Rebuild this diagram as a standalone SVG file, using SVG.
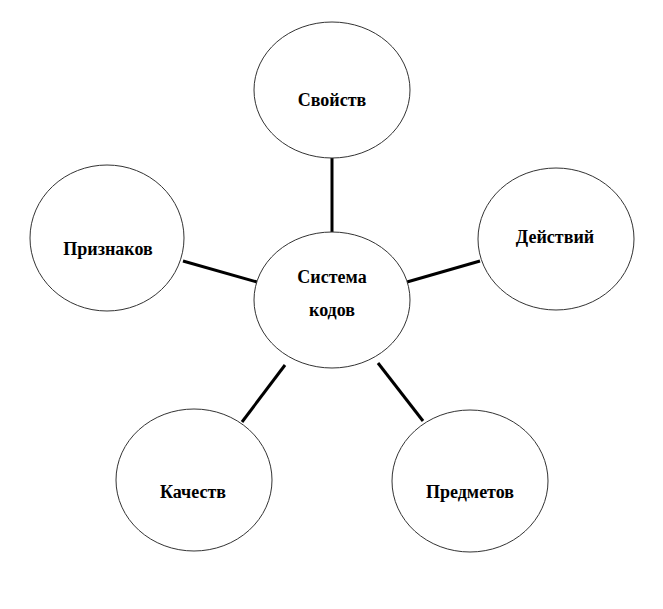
<svg xmlns="http://www.w3.org/2000/svg" width="663" height="609" viewBox="0 0 663 609">
<style>
.n ellipse{fill:#fff;stroke:#333;stroke-width:1}
.n text{font-family:"Liberation Serif","Times New Roman",serif;font-weight:bold;font-size:18px;fill:#000;text-anchor:middle}
.c line{stroke:#000;stroke-width:3}
</style>
<rect width="663" height="609" fill="#fff"/>
<g class="c" id="connectors">
<line x1="332" y1="158" x2="332" y2="232"/>
<line x1="183" y1="261" x2="257" y2="282"/>
<line x1="407" y1="282" x2="480" y2="261"/>
<line x1="285" y1="365" x2="242" y2="422"/>
<line x1="378" y1="363" x2="423" y2="421"/>
</g>
<g class="n" id="svoistv"><ellipse cx="332" cy="90" rx="78" ry="68"/><text x="332" y="106">Свойств</text></g>
<g class="n" id="priznakov"><ellipse cx="107" cy="238" rx="77" ry="73"/><text x="108" y="255">Признаков</text></g>
<g class="n" id="deistviy"><ellipse cx="556" cy="239" rx="78" ry="71"/><text x="555" y="243">Действий</text></g>
<g class="n" id="sistema"><ellipse cx="332" cy="300" rx="78" ry="68"/><text x="332" y="283">Система</text><text x="332" y="316">кодов</text></g>
<g class="n" id="kachestv"><ellipse cx="194" cy="480" rx="78" ry="71"/><text x="193" y="498">Качеств</text></g>
<g class="n" id="predmetov"><ellipse cx="470" cy="481" rx="78" ry="71"/><text x="470" y="498">Предметов</text></g>
</svg>
